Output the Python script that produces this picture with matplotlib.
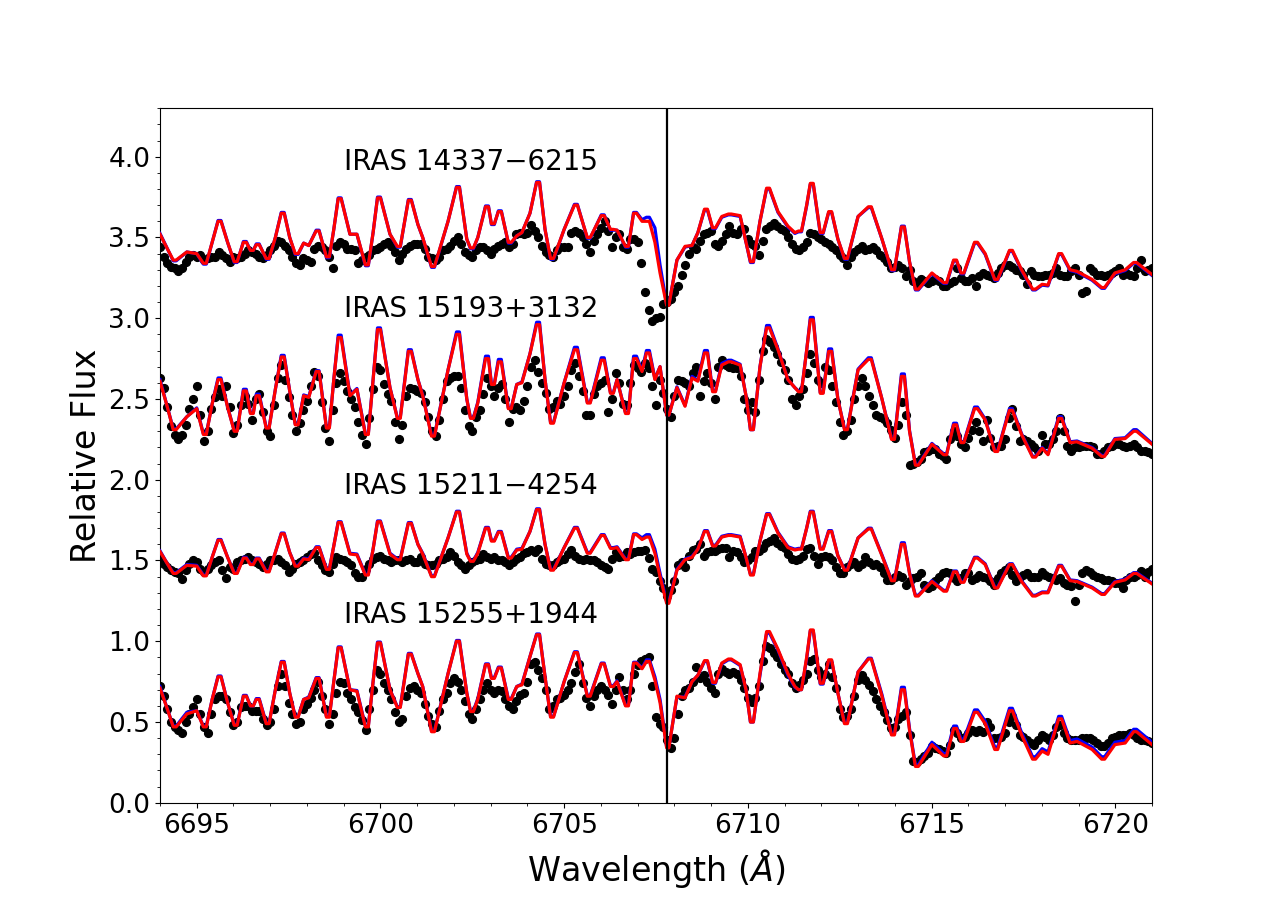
import numpy as np
import matplotlib
matplotlib.use("Agg")
import matplotlib.pyplot as plt
from matplotlib.ticker import MultipleLocator

# observed spectra, sampled every 0.1 A from 6694.0 to 6721.0
wave_obs = np.round(np.arange(6694.0, 6721.0001, 0.1), 1)

obs_14337 = [
    3.44, 3.38, 3.34, 3.32, 3.31, 3.29, 3.31, 3.35, 3.38, 3.39,
    3.38, 3.39, 3.36, 3.37, 3.38, 3.38, 3.41, 3.39, 3.37, 3.35,
    3.38, 3.37, 3.38, 3.40, 3.42, 3.41, 3.40, 3.38, 3.37, 3.39,
    3.42, 3.45, 3.48, 3.47, 3.45, 3.42, 3.38, 3.34, 3.33, 3.37,
    3.36, 3.35, 3.43, 3.45, 3.44, 3.42, 3.38, 3.31, 3.45, 3.47,
    3.46, 3.43, 3.43, 3.42, 3.34, 3.36, 3.38, 3.39, 3.42, 3.43,
    3.44, 3.46, 3.47, 3.45, 3.41, 3.36, 3.40, 3.43, 3.45, 3.46,
    3.46, 3.46, 3.43, 3.38, 3.37, 3.36, 3.38, 3.42, 3.43, 3.45,
    3.48, 3.50, 3.46, 3.41, 3.39, 3.38, 3.42, 3.44, 3.44, 3.42,
    3.40, 3.43, 3.45, 3.46, 3.47, 3.44, 3.46, 3.52, 3.53, 3.52,
    3.53, 3.58, 3.54, 3.50, 3.45, 3.41, 3.39, 3.38, 3.42, 3.44,
    3.44, 3.44, 3.53, 3.54, 3.53, 3.50, 3.46, 3.41, 3.48, 3.52,
    3.56, 3.60, 3.54, 3.44, 3.50, 3.52, 3.44, 3.43, 3.49, 3.49,
    3.47, 3.34, 3.16, 3.05, 2.98, 3.00, 3.01, 3.09, 3.10, 3.12,
    3.16, 3.20, 3.27, 3.33, 3.40, 3.44, 3.43, 3.48, 3.52, 3.53,
    3.54, 3.46, 3.45, 3.48, 3.52, 3.57, 3.53, 3.52, 3.55, 3.55,
    3.49, 3.46, 3.45, 3.39, 3.48, 3.55, 3.57, 3.59, 3.57, 3.55,
    3.54, 3.50, 3.46, 3.43, 3.42, 3.44, 3.47, 3.53, 3.52, 3.50,
    3.49, 3.47, 3.46, 3.44, 3.42, 3.39, 3.37, 3.33, 3.38, 3.41,
    3.43, 3.45, 3.42, 3.43, 3.44, 3.42, 3.39, 3.37, 3.35, 3.31,
    3.32, 3.33, 3.31, 3.26, 3.30, 3.23, 3.22, 3.24, 3.23, 3.22,
    3.23, 3.24, 3.23, 3.20, 3.20, 3.22, 3.23, 3.31, 3.25, 3.23,
    3.23, 3.25, 3.20, 3.26, 3.28, 3.27, 3.26, 3.25, 3.28, 3.31,
    3.33, 3.33, 3.32, 3.30, 3.29, 3.27, 3.21, 3.29, 3.27, 3.26,
    3.26, 3.27, 3.27, 3.28, 3.31, 3.27, 3.26, 3.26, 3.29, 3.31,
    3.27, 3.155, 3.17, 3.31, 3.29, 3.27, 3.27, 3.26, 3.27, 3.28,
    3.29, 3.31, 3.27, 3.28, 3.27, 3.26, 3.31, 3.36, 3.29, 3.30,
    3.31,
]

obs_15193 = [
    2.63, 2.57, 2.45, 2.33, 2.28, 2.25, 2.28, 2.34, 2.44, 2.50,
    2.58, 2.40, 2.24, 2.30, 2.44, 2.51, 2.56, 2.52, 2.58, 2.45,
    2.29, 2.34, 2.46, 2.52, 2.47, 2.37, 2.50, 2.53, 2.42, 2.30,
    2.27, 2.46, 2.63, 2.71, 2.62, 2.51, 2.40, 2.30, 2.35, 2.43,
    2.49, 2.58, 2.67, 2.64, 2.48, 2.32, 2.24, 2.43, 2.60, 2.66,
    2.61, 2.55, 2.50, 2.45, 2.36, 2.28, 2.22, 2.38, 2.56, 2.70,
    2.68, 2.59, 2.53, 2.49, 2.36, 2.25, 2.34, 2.52, 2.57, 2.56,
    2.55, 2.54, 2.48, 2.39, 2.30, 2.27, 2.37, 2.50, 2.61, 2.63,
    2.64, 2.64, 2.57, 2.43, 2.33, 2.30, 2.39, 2.43, 2.53, 2.63,
    2.58, 2.52, 2.57, 2.59, 2.50, 2.36, 2.44, 2.45, 2.43, 2.49,
    2.58, 2.70, 2.74, 2.67, 2.60, 2.54, 2.44, 2.45, 2.49, 2.47,
    2.52, 2.58, 2.68, 2.72, 2.64, 2.55, 2.40, 2.40, 2.53, 2.58,
    2.60, 2.62, 2.42, 2.50, 2.66, 2.60, 2.47, 2.46, 2.60, 2.71,
    2.69, 2.67, 2.72, 2.69, 2.58, 2.46, 2.62, 2.54, 2.44, 2.39,
    2.52, 2.62, 2.61, 2.60, 2.58, 2.66, 2.70, 2.52, 2.61, 2.66,
    2.60, 2.50, 2.70, 2.74, 2.71, 2.70, 2.69, 2.69, 2.64, 2.50,
    2.43, 2.48, 2.42, 2.62, 2.80, 2.87, 2.85, 2.82, 2.78, 2.73,
    2.68, 2.62, 2.50, 2.46, 2.52, 2.56, 2.66, 2.78, 2.72, 2.62,
    2.60, 2.70, 2.68, 2.58, 2.48, 2.36, 2.28, 2.30, 2.37, 2.50,
    2.58, 2.63, 2.58, 2.52, 2.46, 2.40, 2.39, 2.375, 2.35, 2.31,
    2.26, 2.34, 2.48, 2.40, 2.09, 2.10, 2.11, 2.13, 2.17, 2.18,
    2.19, 2.19, 2.16, 2.15, 2.13, 2.25, 2.30, 2.27, 2.22, 2.20,
    2.26, 2.31, 2.36, 2.30, 2.24, 2.37, 2.26, 2.20, 2.21, 2.21,
    2.25, 2.38, 2.44, 2.33, 2.24, 2.25, 2.24, 2.22, 2.20, 2.18,
    2.28, 2.22, 2.22, 2.25, 2.30, 2.38, 2.30, 2.21, 2.18, 2.20,
    2.20, 2.21, 2.21, 2.21, 2.20, 2.16, 2.16, 2.18, 2.20, 2.21,
    2.22, 2.22, 2.21, 2.20, 2.21, 2.22, 2.20, 2.18, 2.18, 2.17,
    2.16,
]

obs_15211 = [
    1.505, 1.48, 1.46, 1.44, 1.43, 1.42, 1.385, 1.44, 1.48, 1.50,
    1.49, 1.45, 1.43, 1.45, 1.47, 1.49, 1.50, 1.44, 1.39, 1.46,
    1.45, 1.49, 1.50, 1.51, 1.52, 1.50, 1.49, 1.48, 1.46, 1.48,
    1.50, 1.505, 1.51, 1.49, 1.47, 1.43, 1.45, 1.48, 1.49, 1.50,
    1.52, 1.54, 1.545, 1.50, 1.47, 1.44, 1.43, 1.48, 1.52, 1.51,
    1.50, 1.49, 1.47, 1.42, 1.40, 1.40, 1.45, 1.48, 1.51, 1.52,
    1.53, 1.51, 1.50, 1.49, 1.50, 1.50, 1.49, 1.505, 1.51, 1.49,
    1.49, 1.52, 1.48, 1.47, 1.47, 1.48, 1.50, 1.51, 1.52, 1.55,
    1.53, 1.49, 1.47, 1.45, 1.47, 1.49, 1.50, 1.51, 1.54, 1.52,
    1.51, 1.52, 1.50, 1.50, 1.49, 1.47, 1.49, 1.51, 1.52, 1.545,
    1.55, 1.565, 1.55, 1.57, 1.51, 1.48, 1.47, 1.47, 1.49, 1.50,
    1.51, 1.54, 1.565, 1.53, 1.51, 1.50, 1.51, 1.50, 1.50, 1.49,
    1.47, 1.46, 1.45, 1.51, 1.55, 1.52, 1.53, 1.55, 1.54, 1.555,
    1.56, 1.56, 1.565, 1.515, 1.45, 1.43, 1.37, 1.33, 1.28, 1.32,
    1.37, 1.47, 1.49, 1.46, 1.53, 1.565, 1.57, 1.60, 1.53, 1.55,
    1.56, 1.56, 1.57, 1.575, 1.58, 1.52, 1.56, 1.55, 1.52, 1.49,
    1.50, 1.52, 1.56, 1.56, 1.58, 1.61, 1.62, 1.64, 1.61, 1.59,
    1.58, 1.54, 1.51, 1.50, 1.51, 1.53, 1.57, 1.575, 1.53, 1.48,
    1.52, 1.53, 1.52, 1.50, 1.46, 1.42, 1.425, 1.46, 1.48, 1.49,
    1.46, 1.48, 1.52, 1.49, 1.47, 1.48, 1.46, 1.42, 1.38, 1.38,
    1.40, 1.41, 1.40, 1.35, 1.37, 1.39, 1.40, 1.42, 1.35, 1.33,
    1.34, 1.37, 1.40, 1.42, 1.43, 1.42, 1.39, 1.37, 1.39, 1.42,
    1.42, 1.38, 1.39, 1.41, 1.40, 1.39, 1.37, 1.35, 1.39, 1.42,
    1.44, 1.46, 1.41, 1.37, 1.40, 1.41, 1.42, 1.40, 1.40, 1.40,
    1.43, 1.41, 1.40, 1.39, 1.38, 1.39, 1.36, 1.35, 1.34, 1.25,
    1.35, 1.42, 1.44, 1.43, 1.41, 1.40, 1.39, 1.38, 1.38, 1.37,
    1.36, 1.36, 1.33, 1.38, 1.40, 1.40, 1.41, 1.435, 1.40, 1.43,
    1.45,
]

obs_15255 = [
    0.72, 0.66, 0.58, 0.50, 0.47, 0.45, 0.43, 0.50, 0.55, 0.59,
    0.64, 0.55, 0.47, 0.43, 0.55, 0.64, 0.66, 0.66, 0.64, 0.56,
    0.48, 0.50, 0.59, 0.60, 0.60, 0.57, 0.57, 0.57, 0.52, 0.48,
    0.50, 0.58, 0.72, 0.80, 0.72, 0.62, 0.55, 0.49, 0.50, 0.58,
    0.61, 0.65, 0.70, 0.75, 0.66, 0.58, 0.49, 0.55, 0.68, 0.75,
    0.74, 0.68, 0.64, 0.59, 0.56, 0.51, 0.45, 0.58, 0.70, 0.82,
    0.80, 0.74, 0.70, 0.64, 0.56, 0.50, 0.52, 0.66, 0.71, 0.72,
    0.70, 0.68, 0.61, 0.54, 0.49, 0.47, 0.57, 0.64, 0.68, 0.74,
    0.77, 0.75, 0.70, 0.63, 0.55, 0.52, 0.58, 0.64, 0.70, 0.74,
    0.70, 0.68, 0.70, 0.69, 0.64, 0.60, 0.58, 0.63, 0.67, 0.68,
    0.75, 0.86, 0.87, 0.82, 0.77, 0.70, 0.58, 0.60, 0.64, 0.65,
    0.67, 0.70, 0.74, 0.81, 0.86, 0.74, 0.65, 0.60, 0.66, 0.70,
    0.72, 0.70, 0.67, 0.61, 0.70, 0.78, 0.70, 0.64, 0.70, 0.80,
    0.85, 0.88, 0.89, 0.90, 0.72, 0.53, 0.49, 0.47, 0.39, 0.34,
    0.40, 0.55, 0.66, 0.70, 0.71, 0.75, 0.84, 0.77, 0.79, 0.75,
    0.71, 0.68, 0.80, 0.83, 0.81, 0.80, 0.81, 0.80, 0.76, 0.71,
    0.65, 0.625, 0.65, 0.72, 0.88, 0.97, 0.96, 0.93, 0.90, 0.86,
    0.82, 0.80, 0.74, 0.71, 0.73, 0.76, 0.80, 0.88, 0.89, 0.82,
    0.78, 0.80, 0.86, 0.78, 0.71, 0.58, 0.53, 0.54, 0.58, 0.66,
    0.76, 0.79, 0.76, 0.73, 0.69, 0.64, 0.60, 0.56, 0.51, 0.46,
    0.47, 0.52, 0.54, 0.56, 0.42, 0.26, 0.25, 0.27, 0.29, 0.31,
    0.35, 0.34, 0.33, 0.32, 0.31, 0.36, 0.45, 0.43, 0.40, 0.41,
    0.43, 0.45, 0.44, 0.45, 0.44, 0.50, 0.47, 0.40, 0.40, 0.41,
    0.43, 0.50, 0.54, 0.48, 0.42, 0.41, 0.39, 0.37, 0.355, 0.39,
    0.42, 0.41, 0.39, 0.42, 0.47, 0.48, 0.43, 0.40, 0.39, 0.39,
    0.39, 0.40, 0.40, 0.40, 0.39, 0.37, 0.35, 0.35, 0.37, 0.40,
    0.41, 0.42, 0.42, 0.42, 0.43, 0.42, 0.40, 0.39, 0.39, 0.38,
    0.37,
]

# synthetic spectra (blue and red fits) on a common wavelength list
wave_mod = [
    6694.00, 6694.20, 6694.36, 6694.44, 6694.73, 6695.00, 6695.18, 6695.26, 6695.42, 6695.58, 6695.66, 6695.84, 6696.02, 6696.10,
    6696.27, 6696.35, 6696.46, 6696.54, 6696.62, 6696.70, 6696.89, 6696.97, 6697.14, 6697.30, 6697.38, 6697.53, 6697.68, 6697.76, 6697.91, 6698.05,
    6698.25, 6698.33, 6698.53, 6698.61, 6698.73, 6698.85, 6698.93, 6699.17, 6699.36, 6699.59, 6699.67, 6699.80, 6699.92, 6700.00, 6700.26,
    6700.46, 6700.54, 6700.76, 6700.84, 6701.02, 6701.15, 6701.39, 6701.47, 6701.84, 6702.07, 6702.15, 6702.35, 6702.45, 6702.53, 6702.65,
    6702.86, 6702.94, 6703.02, 6703.10, 6703.21, 6703.29, 6703.48, 6703.56, 6703.71, 6703.85, 6704.07, 6704.25, 6704.33, 6704.48, 6704.63, 6704.71,
    6705.00, 6705.28, 6705.36, 6705.63, 6705.71, 6706.01, 6706.09, 6706.26, 6706.34, 6706.44, 6706.67, 6706.75, 6706.89, 6706.97, 6707.12, 6707.24, 6707.32,
    6707.47, 6707.61, 6707.79, 6707.85, 6708.07, 6708.29, 6708.48, 6708.64, 6708.82, 6708.90, 6709.04, 6709.12, 6709.29,
    6709.47, 6709.55, 6709.79, 6709.95, 6710.07, 6710.15, 6710.33, 6710.51, 6710.59, 6710.82, 6711.09, 6711.28, 6711.38, 6711.46,
    6711.60, 6711.70, 6711.78, 6711.97, 6712.05, 6712.20, 6712.28, 6712.45, 6712.63, 6712.71, 6713.00, 6713.28, 6713.36, 6713.65, 6713.91, 6713.99,
    6714.18, 6714.26, 6714.40, 6714.56, 6714.64, 6715.01, 6715.33, 6715.41, 6715.60, 6715.68, 6715.80, 6715.88, 6716.17, 6716.25, 6716.46, 6716.72, 6716.80,
    6717.12, 6717.20, 6717.45, 6717.75, 6717.83, 6718.01, 6718.17, 6718.46, 6718.54, 6718.77, 6718.96, 6719.37, 6719.63, 6719.71,
    6719.99, 6720.27, 6720.50, 6720.58, 6721.00,
]

red_14337 = [
    3.52, 3.43, 3.36, 3.36, 3.41, 3.40, 3.34, 3.34, 3.47, 3.60, 3.60, 3.47, 3.35, 3.35,
    3.47, 3.47, 3.42, 3.42, 3.455, 3.455, 3.37, 3.37, 3.50, 3.65, 3.65, 3.50, 3.40, 3.40, 3.465, 3.45,
    3.54, 3.54, 3.38, 3.38, 3.55, 3.74, 3.74, 3.52, 3.52, 3.33, 3.33, 3.53, 3.745, 3.745, 3.52,
    3.445, 3.445, 3.73, 3.73, 3.58, 3.50, 3.32, 3.32, 3.60, 3.81, 3.81, 3.49, 3.435, 3.435, 3.50,
    3.69, 3.69, 3.585, 3.585, 3.66, 3.66, 3.47, 3.47, 3.51, 3.53, 3.65, 3.84, 3.84, 3.55, 3.37, 3.37,
    3.55, 3.70, 3.70, 3.50, 3.50, 3.635, 3.635, 3.55, 3.55, 3.545, 3.445, 3.445, 3.65, 3.65, 3.60, 3.60, 3.60,
    3.47, 3.28, 3.08, 3.08, 3.36, 3.445, 3.45, 3.53, 3.675, 3.675, 3.56, 3.56, 3.63,
    3.645, 3.645, 3.635, 3.47, 3.35, 3.35, 3.60, 3.805, 3.805, 3.66, 3.57, 3.53, 3.54, 3.54,
    3.70, 3.835, 3.835, 3.53, 3.53, 3.66, 3.66, 3.49, 3.37, 3.37, 3.63, 3.69, 3.69, 3.49, 3.30, 3.30,
    3.565, 3.565, 3.35, 3.18, 3.18, 3.28, 3.22, 3.22, 3.36, 3.36, 3.28, 3.28, 3.47, 3.47, 3.40, 3.24, 3.24,
    3.42, 3.42, 3.30, 3.18, 3.18, 3.21, 3.205, 3.40, 3.40, 3.30, 3.29, 3.24, 3.19, 3.19,
    3.28, 3.30, 3.345, 3.345, 3.27,
]
blue_14337 = [
    3.525, 3.43, 3.355, 3.355, 3.41, 3.40, 3.335, 3.335, 3.47, 3.605, 3.605, 3.47, 3.345, 3.345,
    3.475, 3.475, 3.42, 3.42, 3.46, 3.46, 3.365, 3.365, 3.50, 3.655, 3.655, 3.50, 3.395, 3.395, 3.465, 3.45,
    3.545, 3.545, 3.375, 3.375, 3.55, 3.745, 3.745, 3.52, 3.52, 3.325, 3.325, 3.53, 3.75, 3.75, 3.52,
    3.44, 3.44, 3.735, 3.735, 3.58, 3.50, 3.315, 3.315, 3.60, 3.815, 3.815, 3.49, 3.43, 3.43, 3.50,
    3.695, 3.695, 3.58, 3.58, 3.665, 3.665, 3.465, 3.465, 3.51, 3.53, 3.65, 3.845, 3.845, 3.55, 3.365, 3.365,
    3.55, 3.705, 3.705, 3.495, 3.495, 3.64, 3.64, 3.545, 3.545, 3.545, 3.44, 3.44, 3.655, 3.655, 3.61, 3.625, 3.625,
    3.56, 3.33, 3.085, 3.085, 3.36, 3.44, 3.45, 3.53, 3.67, 3.67, 3.555, 3.555, 3.625,
    3.64, 3.64, 3.63, 3.47, 3.345, 3.345, 3.60, 3.80, 3.80, 3.655, 3.565, 3.525, 3.535, 3.535,
    3.695, 3.83, 3.83, 3.525, 3.525, 3.655, 3.655, 3.49, 3.365, 3.365, 3.63, 3.685, 3.685, 3.49, 3.295, 3.295,
    3.57, 3.57, 3.35, 3.175, 3.175, 3.275, 3.215, 3.215, 3.355, 3.355, 3.275, 3.275, 3.465, 3.465, 3.395, 3.235, 3.235,
    3.415, 3.415, 3.295, 3.175, 3.175, 3.205, 3.20, 3.395, 3.395, 3.295, 3.285, 3.235, 3.185, 3.185,
    3.275, 3.295, 3.34, 3.34, 3.265,
]

red_15193 = [
    2.61, 2.45, 2.31, 2.31, 2.39, 2.44, 2.28, 2.28, 2.47, 2.62, 2.62, 2.45, 2.30, 2.30,
    2.55, 2.55, 2.41, 2.41, 2.52, 2.52, 2.32, 2.32, 2.56, 2.76, 2.76, 2.55, 2.34, 2.34, 2.52, 2.51,
    2.67, 2.67, 2.32, 2.32, 2.62, 2.88, 2.88, 2.52, 2.56, 2.28, 2.28, 2.62, 2.93, 2.93, 2.57,
    2.38, 2.38, 2.795, 2.795, 2.62, 2.52, 2.27, 2.27, 2.68, 2.90, 2.90, 2.50, 2.38, 2.38, 2.475,
    2.75, 2.75, 2.59, 2.59, 2.73, 2.73, 2.44, 2.44, 2.59, 2.60, 2.78, 2.96, 2.96, 2.62, 2.35, 2.35,
    2.60, 2.805, 2.805, 2.475, 2.475, 2.74, 2.74, 2.535, 2.535, 2.62, 2.41, 2.41, 2.75, 2.75, 2.67, 2.785, 2.785,
    2.62, 2.70, 2.40, 2.40, 2.57, 2.455, 2.63, 2.61, 2.785, 2.785, 2.545, 2.545, 2.71,
    2.73, 2.73, 2.71, 2.52, 2.31, 2.31, 2.70, 2.94, 2.94, 2.805, 2.62, 2.57, 2.545, 2.545,
    2.80, 2.99, 2.99, 2.535, 2.535, 2.795, 2.795, 2.50, 2.31, 2.31, 2.68, 2.745, 2.745, 2.50, 2.25, 2.25,
    2.64, 2.64, 2.30, 2.09, 2.09, 2.22, 2.155, 2.155, 2.34, 2.34, 2.23, 2.23, 2.44, 2.44, 2.37, 2.175, 2.175,
    2.43, 2.43, 2.28, 2.14, 2.14, 2.195, 2.155, 2.38, 2.38, 2.23, 2.235, 2.195, 2.145, 2.145,
    2.25, 2.255, 2.30, 2.30, 2.22,
]
blue_15193 = [
    2.62, 2.45, 2.315, 2.315, 2.39, 2.445, 2.285, 2.285, 2.47, 2.63, 2.63, 2.45, 2.305, 2.305,
    2.56, 2.56, 2.415, 2.415, 2.53, 2.53, 2.325, 2.325, 2.56, 2.77, 2.77, 2.55, 2.345, 2.345, 2.525, 2.515,
    2.675, 2.675, 2.325, 2.325, 2.62, 2.895, 2.895, 2.525, 2.565, 2.285, 2.285, 2.62, 2.94, 2.94, 2.57,
    2.385, 2.385, 2.805, 2.805, 2.62, 2.525, 2.275, 2.275, 2.68, 2.915, 2.915, 2.50, 2.385, 2.385, 2.48,
    2.765, 2.765, 2.595, 2.595, 2.745, 2.745, 2.445, 2.445, 2.59, 2.605, 2.78, 2.975, 2.975, 2.62, 2.355, 2.355,
    2.60, 2.82, 2.82, 2.48, 2.48, 2.755, 2.755, 2.54, 2.54, 2.62, 2.415, 2.415, 2.765, 2.765, 2.675, 2.80, 2.80,
    2.625, 2.70, 2.40, 2.40, 2.575, 2.46, 2.64, 2.615, 2.80, 2.80, 2.55, 2.55, 2.72,
    2.74, 2.74, 2.715, 2.52, 2.31, 2.31, 2.70, 2.955, 2.955, 2.81, 2.62, 2.57, 2.55, 2.55,
    2.80, 3.005, 3.005, 2.54, 2.54, 2.81, 2.81, 2.50, 2.315, 2.315, 2.685, 2.755, 2.755, 2.50, 2.255, 2.255,
    2.655, 2.655, 2.305, 2.095, 2.095, 2.225, 2.16, 2.16, 2.35, 2.35, 2.235, 2.235, 2.45, 2.45, 2.375, 2.18, 2.18,
    2.44, 2.44, 2.285, 2.145, 2.145, 2.20, 2.16, 2.39, 2.39, 2.235, 2.24, 2.20, 2.15, 2.15,
    2.255, 2.26, 2.31, 2.31, 2.225,
]

red_15211 = [
    1.555, 1.48, 1.42, 1.42, 1.47, 1.465, 1.405, 1.405, 1.52, 1.625, 1.625, 1.52, 1.42, 1.42,
    1.515, 1.515, 1.475, 1.475, 1.51, 1.51, 1.43, 1.43, 1.55, 1.665, 1.665, 1.55, 1.465, 1.465, 1.51, 1.505,
    1.58, 1.58, 1.445, 1.445, 1.59, 1.735, 1.735, 1.54, 1.535, 1.41, 1.41, 1.57, 1.74, 1.74, 1.54,
    1.505, 1.505, 1.73, 1.73, 1.60, 1.54, 1.40, 1.40, 1.64, 1.80, 1.80, 1.54, 1.495, 1.495, 1.545,
    1.70, 1.70, 1.62, 1.62, 1.675, 1.675, 1.515, 1.515, 1.565, 1.57, 1.68, 1.815, 1.815, 1.60, 1.44, 1.44,
    1.58, 1.70, 1.70, 1.545, 1.545, 1.655, 1.655, 1.575, 1.575, 1.58, 1.505, 1.505, 1.66, 1.66, 1.63, 1.645, 1.645,
    1.545, 1.40, 1.235, 1.235, 1.44, 1.505, 1.52, 1.57, 1.68, 1.68, 1.59, 1.59, 1.645,
    1.655, 1.655, 1.645, 1.52, 1.41, 1.41, 1.62, 1.785, 1.785, 1.67, 1.58, 1.565, 1.57, 1.57,
    1.70, 1.80, 1.80, 1.57, 1.57, 1.68, 1.68, 1.53, 1.44, 1.44, 1.64, 1.695, 1.695, 1.53, 1.375, 1.375,
    1.60, 1.60, 1.42, 1.28, 1.28, 1.37, 1.31, 1.31, 1.43, 1.43, 1.365, 1.365, 1.515, 1.515, 1.475, 1.33, 1.33,
    1.475, 1.475, 1.37, 1.28, 1.28, 1.30, 1.30, 1.465, 1.465, 1.375, 1.37, 1.33, 1.29, 1.29,
    1.365, 1.38, 1.42, 1.42, 1.355,
]
blue_15211 = [
    1.56, 1.48, 1.425, 1.425, 1.475, 1.47, 1.41, 1.41, 1.52, 1.63, 1.63, 1.52, 1.425, 1.425,
    1.52, 1.52, 1.48, 1.48, 1.515, 1.515, 1.435, 1.435, 1.55, 1.67, 1.67, 1.55, 1.47, 1.47, 1.515, 1.51,
    1.585, 1.585, 1.45, 1.45, 1.59, 1.74, 1.74, 1.545, 1.54, 1.415, 1.415, 1.57, 1.745, 1.745, 1.545,
    1.51, 1.51, 1.735, 1.735, 1.60, 1.545, 1.405, 1.405, 1.64, 1.805, 1.805, 1.545, 1.50, 1.50, 1.55,
    1.705, 1.705, 1.625, 1.625, 1.68, 1.68, 1.52, 1.52, 1.57, 1.575, 1.68, 1.82, 1.82, 1.60, 1.445, 1.445,
    1.58, 1.705, 1.705, 1.55, 1.55, 1.66, 1.66, 1.58, 1.58, 1.585, 1.51, 1.51, 1.665, 1.665, 1.64, 1.66, 1.66,
    1.57, 1.42, 1.245, 1.245, 1.445, 1.51, 1.525, 1.57, 1.685, 1.685, 1.595, 1.595, 1.65,
    1.66, 1.66, 1.65, 1.52, 1.415, 1.415, 1.62, 1.79, 1.79, 1.675, 1.585, 1.57, 1.575, 1.575,
    1.70, 1.805, 1.805, 1.575, 1.575, 1.685, 1.685, 1.53, 1.445, 1.445, 1.64, 1.70, 1.70, 1.535, 1.38, 1.38,
    1.61, 1.61, 1.425, 1.285, 1.285, 1.375, 1.315, 1.315, 1.435, 1.435, 1.37, 1.37, 1.52, 1.52, 1.48, 1.335, 1.335,
    1.48, 1.48, 1.375, 1.285, 1.285, 1.305, 1.305, 1.47, 1.47, 1.38, 1.375, 1.335, 1.295, 1.295,
    1.37, 1.385, 1.425, 1.425, 1.36,
]

red_15255 = [
    0.71, 0.58, 0.47, 0.47, 0.55, 0.57, 0.47, 0.47, 0.64, 0.78, 0.78, 0.62, 0.48, 0.48,
    0.66, 0.66, 0.60, 0.60, 0.64, 0.64, 0.49, 0.49, 0.70, 0.87, 0.87, 0.68, 0.53, 0.53, 0.64, 0.65,
    0.77, 0.77, 0.53, 0.53, 0.75, 0.96, 0.96, 0.70, 0.69, 0.47, 0.47, 0.75, 0.99, 0.99, 0.70,
    0.59, 0.59, 0.92, 0.92, 0.80, 0.72, 0.44, 0.44, 0.80, 1.00, 1.00, 0.68, 0.565, 0.565, 0.64,
    0.855, 0.855, 0.77, 0.77, 0.835, 0.835, 0.64, 0.64, 0.72, 0.73, 0.905, 1.04, 1.04, 0.78, 0.53, 0.53,
    0.75, 0.93, 0.93, 0.66, 0.66, 0.86, 0.86, 0.72, 0.72, 0.75, 0.60, 0.60, 0.865, 0.865, 0.83, 0.875, 0.875,
    0.76, 0.62, 0.34, 0.34, 0.66, 0.65, 0.75, 0.79, 0.88, 0.88, 0.745, 0.745, 0.865,
    0.89, 0.89, 0.855, 0.70, 0.50, 0.50, 0.80, 1.06, 1.06, 0.95, 0.80, 0.72, 0.70, 0.70,
    0.90, 1.07, 1.07, 0.74, 0.74, 0.885, 0.885, 0.68, 0.49, 0.49, 0.81, 0.89, 0.89, 0.66, 0.42, 0.42,
    0.70, 0.70, 0.45, 0.225, 0.225, 0.36, 0.29, 0.29, 0.46, 0.46, 0.38, 0.38, 0.56, 0.56, 0.49, 0.33, 0.33,
    0.57, 0.57, 0.42, 0.27, 0.27, 0.32, 0.30, 0.52, 0.52, 0.37, 0.38, 0.33, 0.27, 0.27,
    0.36, 0.37, 0.44, 0.44, 0.36,
]
blue_15255 = [
    0.72, 0.58, 0.475, 0.475, 0.56, 0.57, 0.475, 0.475, 0.64, 0.785, 0.785, 0.62, 0.485, 0.485,
    0.665, 0.665, 0.60, 0.60, 0.645, 0.645, 0.495, 0.495, 0.70, 0.875, 0.875, 0.68, 0.535, 0.535, 0.64, 0.655,
    0.775, 0.775, 0.535, 0.535, 0.75, 0.965, 0.965, 0.70, 0.695, 0.475, 0.475, 0.75, 0.995, 0.995, 0.70,
    0.595, 0.595, 0.925, 0.925, 0.80, 0.72, 0.445, 0.445, 0.80, 1.005, 1.005, 0.68, 0.57, 0.57, 0.645,
    0.86, 0.86, 0.775, 0.775, 0.84, 0.84, 0.645, 0.645, 0.72, 0.735, 0.905, 1.045, 1.045, 0.78, 0.535, 0.535,
    0.75, 0.935, 0.935, 0.665, 0.665, 0.865, 0.865, 0.725, 0.725, 0.755, 0.605, 0.605, 0.87, 0.87, 0.835, 0.885, 0.885,
    0.78, 0.64, 0.345, 0.345, 0.655, 0.655, 0.75, 0.79, 0.875, 0.875, 0.74, 0.74, 0.86,
    0.885, 0.885, 0.85, 0.70, 0.50, 0.50, 0.79, 1.05, 1.05, 0.945, 0.79, 0.715, 0.70, 0.70,
    0.89, 1.065, 1.065, 0.735, 0.735, 0.88, 0.88, 0.68, 0.495, 0.495, 0.81, 0.895, 0.895, 0.67, 0.425, 0.425,
    0.715, 0.715, 0.46, 0.235, 0.235, 0.375, 0.305, 0.305, 0.475, 0.475, 0.395, 0.395, 0.575, 0.575, 0.505, 0.345, 0.345,
    0.585, 0.585, 0.435, 0.285, 0.285, 0.335, 0.315, 0.535, 0.535, 0.385, 0.395, 0.345, 0.285, 0.285,
    0.375, 0.385, 0.455, 0.455, 0.375,
]

names = ["IRAS 14337\u22126215", "IRAS 15193+3132", "IRAS 15211\u22124254", "IRAS 15255+1944"]
label_y = [3.97, 3.06, 1.96, 1.16]
observed = [obs_14337, obs_15193, obs_15211, obs_15255]
blue_fits = [blue_14337, blue_15193, blue_15211, blue_15255]
red_fits = [red_14337, red_15193, red_15211, red_15255]
li_line = 6707.8


fig = plt.figure(figsize=(12.8, 9.02), dpi=100)
ax = fig.add_subplot(111)

for obs, blue, red in zip(observed, blue_fits, red_fits):
    ax.plot(wave_obs[:len(obs)], obs, "o", color="black", ms=5.6, zorder=2)
    n = min(len(wave_mod), len(blue))
    ax.plot(wave_mod[:n], blue[:n], color="blue", lw=2.3, zorder=3,
            solid_joinstyle="round")
    n = min(len(wave_mod), len(red))
    ax.plot(wave_mod[:n], red[:n], color="red", lw=2.3, zorder=4,
            solid_joinstyle="round")

for name, y in zip(names, label_y):
    ax.text(6699.0, y, name, fontsize=20, va="center", ha="left")

ax.axvline(li_line, color="black", lw=1.6, zorder=5)

ax.set_xlim(6694, 6721)
ax.set_ylim(0.0, 4.3)
ax.xaxis.set_major_locator(MultipleLocator(5))
ax.xaxis.set_minor_locator(MultipleLocator(1))
ax.yaxis.set_major_locator(MultipleLocator(0.5))
ax.yaxis.set_minor_locator(MultipleLocator(0.1))
ax.tick_params(axis="both", which="major", labelsize=19)
ax.set_xlabel(r"Wavelength ($\AA$)", fontsize=24, labelpad=6)
ax.set_ylabel("Relative Flux", fontsize=24)

fig.savefig("out.png", dpi=100)
